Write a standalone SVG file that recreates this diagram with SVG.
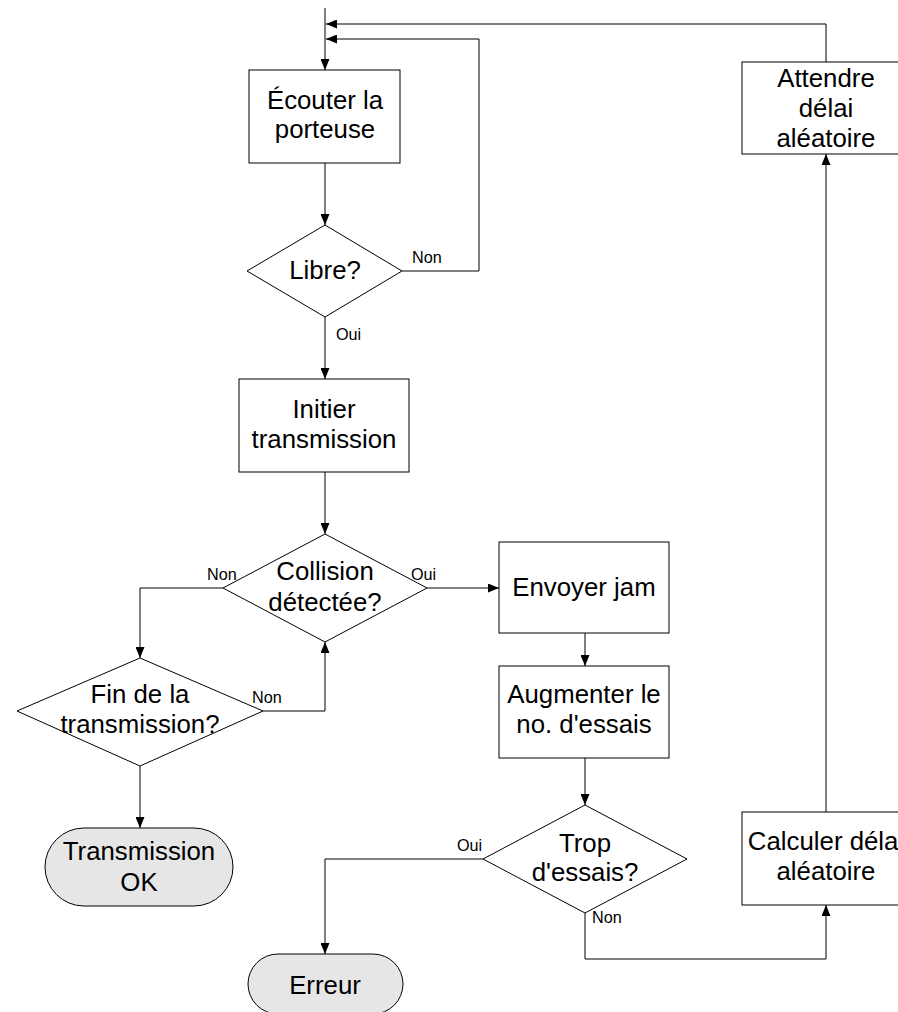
<svg xmlns="http://www.w3.org/2000/svg" width="898" height="1012" viewBox="0 0 898 1012">
  <style>
    .box { fill: #ffffff; stroke: #000000; stroke-width: 1; }
    .term { fill: #e6e6e6; stroke: #000000; stroke-width: 1; }
    .txt { font-family: "Liberation Sans", Arial, sans-serif; font-size: 25.8px; fill: #000000; text-anchor: middle; }
    .lbl { font-family: "Liberation Sans", Arial, sans-serif; font-size: 16.2px; fill: #000000; }
    .conn { fill: none; stroke: #000000; stroke-width: 1; }
  </style>
  <defs>
    <marker id="arrow" viewBox="0 0 11 9" refX="11" refY="4.5" markerWidth="11" markerHeight="9" markerUnits="userSpaceOnUse" orient="auto">
      <path d="M0,0 L11,4.5 L0,9 z" fill="#000000"/>
    </marker>
  </defs>

  <!-- connectors -->
  <g id="connectors">
    <path class="conn" d="M325,8 L325,70" marker-end="url(#arrow)"/>
    <path class="conn" d="M826,62 L826,24 L326,24" marker-end="url(#arrow)"/>
    <path class="conn" d="M402,271 L479,271 L479,39 L326,39" marker-end="url(#arrow)"/>
    <path class="conn" d="M325,163 L325,225" marker-end="url(#arrow)"/>
    <path class="conn" d="M325,317 L325,379" marker-end="url(#arrow)"/>
    <path class="conn" d="M325,472 L325,534" marker-end="url(#arrow)"/>
    <path class="conn" d="M427,588 L499,588" marker-end="url(#arrow)"/>
    <path class="conn" d="M223,588 L140,588 L140,658" marker-end="url(#arrow)"/>
    <path class="conn" d="M263,711 L325,711 L325,642" marker-end="url(#arrow)"/>
    <path class="conn" d="M140,766 L140,828" marker-end="url(#arrow)"/>
    <path class="conn" d="M585,633 L585,666" marker-end="url(#arrow)"/>
    <path class="conn" d="M585,758 L585,805" marker-end="url(#arrow)"/>
    <path class="conn" d="M483,859 L325,859 L325,954" marker-end="url(#arrow)"/>
    <path class="conn" d="M585,913 L585,959 L826,959 L826,905" marker-end="url(#arrow)"/>
    <path class="conn" d="M826,812 L826,154" marker-end="url(#arrow)"/>
  </g>

  <!-- edge labels -->
  <g id="labels">
    <text class="lbl" x="412" y="263">Non</text>
    <text class="lbl" x="336" y="340">Oui</text>
    <text class="lbl" x="207" y="580">Non</text>
    <text class="lbl" x="411" y="580">Oui</text>
    <text class="lbl" x="252" y="703">Non</text>
    <text class="lbl" x="457" y="851">Oui</text>
    <text class="lbl" x="592" y="923">Non</text>
  </g>

  <g id="ecouter">
    <rect class="box" x="249" y="70" width="151" height="93"/>
    <text class="txt" x="325" y="109">Écouter la</text>
    <text class="txt" x="325" y="138">porteuse</text>
  </g>

  <g id="libre">
    <polygon class="box" points="325,225 402,271 325,317 247,271"/>
    <text class="txt" x="325" y="279">Libre?</text>
  </g>

  <g id="initier">
    <rect class="box" x="239" y="379" width="170" height="93"/>
    <text class="txt" x="324" y="418">Initier</text>
    <text class="txt" x="324" y="448">transmission</text>
  </g>

  <g id="collision">
    <polygon class="box" points="325,534 427,588 325,642 223,588"/>
    <text class="txt" x="325" y="580">Collision</text>
    <text class="txt" x="325" y="611">détectée?</text>
  </g>

  <g id="fin">
    <polygon class="box" points="140,658 263,711 140,766 17,711"/>
    <text class="txt" x="140" y="703">Fin de la</text>
    <text class="txt" x="140" y="733">transmission?</text>
  </g>

  <g id="transmission-ok">
    <rect class="term" x="45" y="828" width="188" height="78" rx="39" ry="39"/>
    <text class="txt" x="139" y="860">Transmission</text>
    <text class="txt" x="139" y="891">OK</text>
  </g>

  <g id="envoyer">
    <rect class="box" x="499" y="542" width="170" height="91"/>
    <text class="txt" x="584" y="596">Envoyer jam</text>
  </g>

  <g id="augmenter">
    <rect class="box" x="499" y="666" width="170" height="92"/>
    <text class="txt" x="584" y="703">Augmenter le</text>
    <text class="txt" x="584" y="733">no. d'essais</text>
  </g>

  <g id="trop">
    <polygon class="box" points="585,805 687,859 585,913 483,859"/>
    <text class="txt" x="585" y="852">Trop</text>
    <text class="txt" x="585" y="881">d'essais?</text>
  </g>

  <g id="erreur">
    <rect class="term" x="248" y="954" width="155" height="60" rx="30" ry="30"/>
    <text class="txt" x="325" y="994">Erreur</text>
  </g>

  <!-- this box runs past the right edge of the canvas -->
  <g id="calculer">
    <rect class="box" x="742" y="812" width="168" height="93"/>
    <text class="txt" x="826" y="850">Calculer délai</text>
    <text class="txt" x="826" y="880">aléatoire</text>
  </g>

  <g id="attendre">
    <rect class="box" x="742" y="62" width="168" height="92"/>
    <text class="txt" x="826" y="87">Attendre</text>
    <text class="txt" x="826" y="117">délai</text>
    <text class="txt" x="826" y="147">aléatoire</text>
  </g>
</svg>
